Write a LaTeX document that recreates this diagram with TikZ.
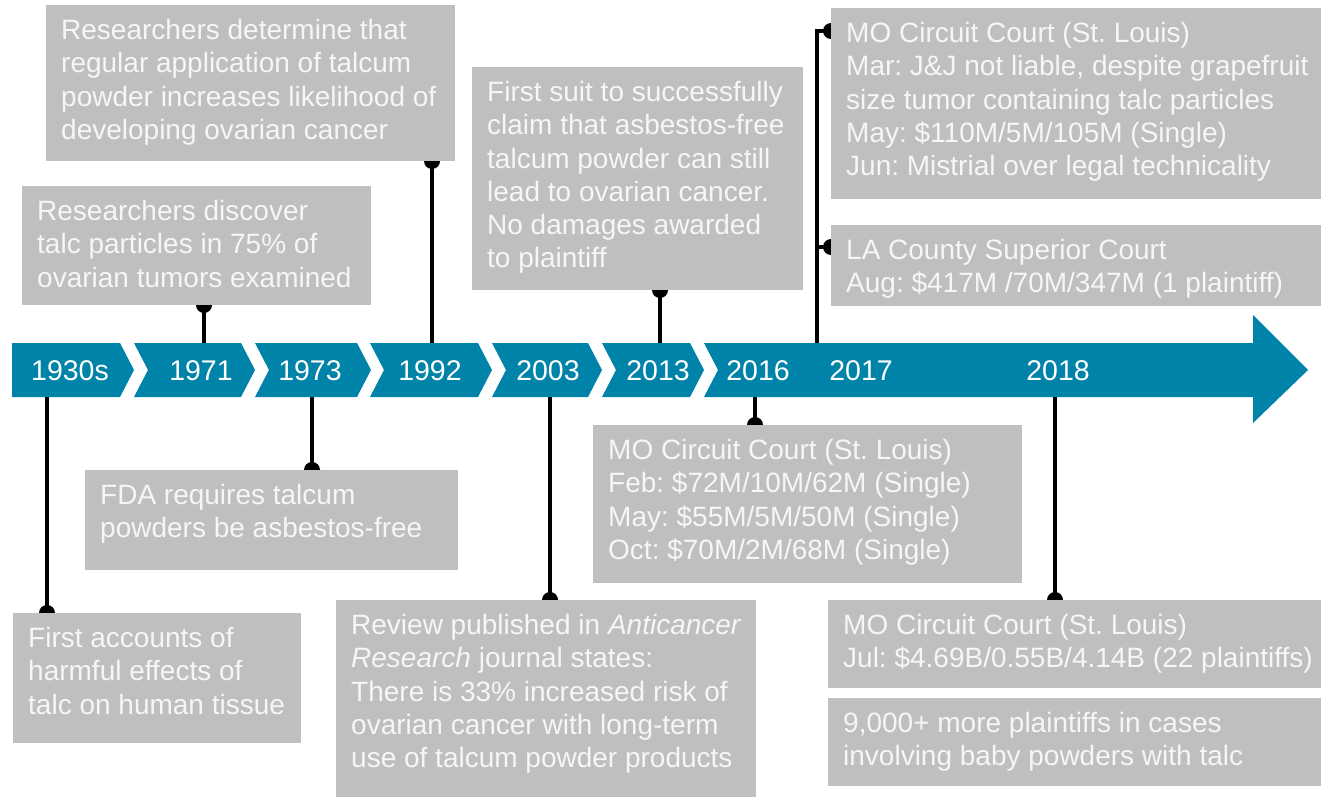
\documentclass[tikz,border=0pt]{standalone}
\usepackage{fontspec}
\setmainfont{Liberation Sans}
\usetikzlibrary{calc}
\pgfdeclarelayer{bg}
\pgfsetlayers{bg,main}
\frenchspacing
\definecolor{bandc}{RGB}{0,131,168}
\definecolor{boxgray}{RGB}{191,191,191}
\definecolor{txtc}{RGB}{246,246,246}
\tikzset{
  boxst/.style={fill=boxgray, draw=none, inner sep=0pt, outer sep=0pt, anchor=north west},
  txt/.style={text=txtc, font=\frenchspacing\fontsize{28}{33.3}\selectfont, align=left, inner sep=0pt, anchor=north west},
  yr/.style={text=white, font=\fontsize{28.5}{32}\selectfont, anchor=base, inner sep=0pt},
  conn/.style={line width=4.5pt, draw=black},
  dotst/.style={fill=black},
  band/.style={fill=bandc, draw=none}
}
\newcommand{\mybox}[6]{%
  \node[boxst, minimum width={#4-#2}, minimum height={#5-#3}] (#1) at (#2,#3) {};
  \node[txt] (#1t) at ({#2+15},{#3+14}) {#6};
}
\newcommand{\chevseg}[2]{%
  \fill[bandc] (#1,343) -- (#2,343) -- ({#2+14},370) -- (#2,397) -- (#1,397) -- ({#1+14},370) -- cycle;
}
\begin{document}
\begin{tikzpicture}[x=1pt,y=-1pt]
\useasboundingbox (0,0) rectangle (1321,797);
% band
\fill[bandc] (12,343) -- (120,343) -- (134,370) -- (120,397) -- (12,397) -- cycle;
\chevseg{134}{241}
\chevseg{255}{357}
\chevseg{370}{478}
\chevseg{492}{588}
\chevseg{602}{690}
\fill[bandc] (704,343) -- (1253,343) -- (1253,315) -- (1308,370) -- (1253,423) -- (1253,397) -- (704,397) -- (718,370) -- cycle;
% year labels
\node[yr] (y1930) at (70,380) {1930s};
\node[yr] (y1971) at (201,380) {1971};
\node[yr] (y1973) at (310,380) {1973};
\node[yr] (y1992) at (430,380) {1992};
\node[yr] (y2003) at (548,380) {2003};
\node[yr] (y2013) at (658,380) {2013};
\node[yr] (y2016) at (758,380) {2016};
\node[yr] (y2017) at (861,380) {2017};
\node[yr] (y2018) at (1058,380) {2018};
% connector anchors on the band
\coordinate (c1930) at (47,397);
\coordinate (c1971) at (204,343);
\coordinate (c1973) at (312,397);
\coordinate (c1992) at (432,343);
\coordinate (c2003) at (550,397);
\coordinate (c2013) at (660,343);
\coordinate (c2016) at (755,397);
\coordinate (c2017) at (817,343);
\coordinate (c2018) at (1055,397);
% boxes
\mybox{A}{13}{613}{301}{743}{First accounts of\\harmful effects of\\talc on human tissue}
\mybox{B}{22}{186}{371}{305}{Researchers discover\\talc particles in 75\% of\\ovarian tumors examined}
\mybox{C}{85}{470}{458}{570}{FDA requires talcum\\powders be asbestos-free}
\mybox{D}{46}{5}{455}{161}{Researchers determine that\\regular application of talcum\\powder increases likelihood of\\developing ovarian cancer}
\mybox{E}{336}{600}{756}{797}{Review published in \textit{Anticancer}\\\textit{Research} journal states:\\There is 33\% increased risk of\\ovarian cancer with long-term\\use of talcum powder products}
\mybox{F}{472}{67}{803}{290}{First suit to successfully\\claim that asbestos-free\\talcum powder can still\\lead to ovarian cancer.\\No damages awarded\\to plaintiff}
\mybox{G}{593}{425}{1022}{583}{MO Circuit Court (St. Louis)\\Feb: \$72M/10M/62M (Single)\\May: \$55M/5M/50M (Single)\\Oct: \$70M/2M/68M (Single)}
\mybox{H}{831}{8}{1321}{199}{MO Circuit Court (St. Louis)\\Mar: J\&J not liable, despite grapefruit\\size tumor containing talc particles\\May: \$110M/5M/105M (Single)\\Jun: Mistrial over legal technicality}
\mybox{I}{831}{225}{1321}{306}{LA County Superior Court\\Aug: \$417M /70M/347M (1 plaintiff)}
\mybox{J}{828}{600}{1321}{688}{MO Circuit Court (St. Louis)\\Jul: \$4.69B/0.55B/4.14B (22 plaintiffs)}
\mybox{K}{828}{698}{1321}{786}{9,000+ more plaintiffs in cases\\involving baby powders with talc}
% connectors
\begin{pgfonlayer}{bg}
  \draw[conn] (c1930) -- (c1930 |- A.north);
  \fill[dotst] (c1930 |- A.north) circle (8);
  \draw[conn] (c1971) -- (c1971 |- B.south);
  \fill[dotst] (c1971 |- B.south) circle (8);
  \draw[conn] (c1973) -- (c1973 |- C.north);
  \fill[dotst] (c1973 |- C.north) circle (8);
  \draw[conn] (c1992) -- (c1992 |- D.south);
  \fill[dotst] (c1992 |- D.south) circle (8);
  \draw[conn] (c2003) -- (c2003 |- E.north);
  \fill[dotst] (c2003 |- E.north) circle (8);
  \draw[conn] (c2013) -- (c2013 |- F.south);
  \fill[dotst] (c2013 |- F.south) circle (8);
  \draw[conn] (c2016) -- (c2016 |- G.north);
  \fill[dotst] (c2016 |- G.north) circle (8);
  \draw[conn] (c2018) -- (c2018 |- J.north);
  \fill[dotst] (c2018 |- J.north) circle (8);
  \coordinate (hH) at ($(H.north west)+(0,23)$);
  \coordinate (hI) at ($(I.north west)+(0,22)$);
  \draw[conn] (c2017) |- (hH);
  \draw[conn] (c2017 |- hI) -- (hI);
  \fill[dotst] (hH) circle (8);
  \fill[dotst] (hI) circle (8);
\end{pgfonlayer}
\end{tikzpicture}
\end{document}
